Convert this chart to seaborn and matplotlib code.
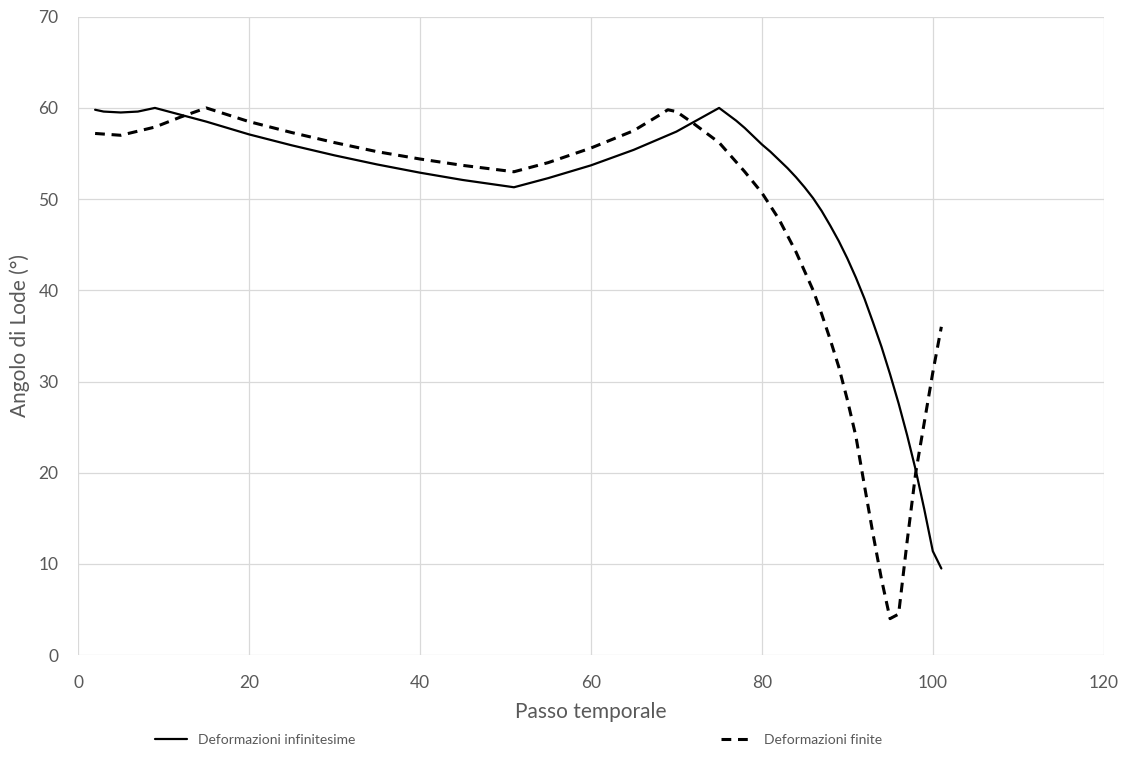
import matplotlib
matplotlib.use("Agg")
import matplotlib.pyplot as plt
import seaborn as sns
import pandas as pd

# deformazioni infinitesime (linea continua)
passo_inf = [2, 3, 5, 7, 9, 15, 20, 25, 30, 35, 40, 45, 51, 55, 60, 65, 70, 75,
             76, 77, 78, 79, 80, 81, 82, 83, 84, 85, 86, 87, 88, 89, 90, 91, 92,
             93, 94, 95, 96, 97, 98, 99, 100, 101]
angolo_inf = [59.8, 59.6, 59.5, 59.6, 60.0, 58.5, 57.1, 55.9, 54.8, 53.8, 52.9,
              52.1, 51.3, 52.3, 53.7, 55.4, 57.4, 60.0,
              59.3, 58.6, 57.8, 56.9, 56.0, 55.2, 54.3, 53.4, 52.4, 51.3, 50.1,
              48.7, 47.1, 45.4, 43.5, 41.4, 39.1, 36.5, 33.8, 30.8, 27.6, 24.1,
              20.3, 16.0, 11.4, 9.5]

# deformazioni finite (linea tratteggiata)
passo_fin = [2, 5, 9, 12, 15, 20, 25, 30, 35, 40, 45, 51, 55, 60, 65, 68, 69,
             70, 72, 75, 78, 80, 82, 84, 86, 87, 88, 89, 90, 91, 92, 93, 94, 95,
             96, 97, 98, 99, 100, 101]
angolo_fin = [57.2, 57.0, 57.9, 59.0, 60.0, 58.5, 57.3, 56.2, 55.2, 54.4, 53.7,
              53.0, 54.0, 55.6, 57.5, 59.2, 59.8, 59.6, 58.3, 56.2, 53.0, 50.7,
              47.8, 44.2, 40.0, 37.4, 34.6, 31.6, 28.0, 24.0, 18.6, 13.3, 8.3,
              4.0, 4.5, 12.5, 20.0, 25.5, 31.0, 36.0]

etichette = ["Deformazioni infinitesime", "Deformazioni finite"]

df_inf = pd.DataFrame({"passo": passo_inf, "angolo": angolo_inf})
df_fin = pd.DataFrame({"passo": passo_fin, "angolo": angolo_fin})

sns.set_style("white")
plt.rcParams["font.family"] = ["Lato", "DejaVu Sans"]
grigio = "#595959"

fig = plt.figure(figsize=(11.24, 7.6), dpi=100)
ax = fig.add_axes([0.0694, 0.138, 0.9126, 0.840])

sns.lineplot(data=df_inf, x="passo", y="angolo", ax=ax, color="black",
             linewidth=1.6, label=etichette[0])
sns.lineplot(data=df_fin, x="passo", y="angolo", ax=ax, color="black",
             linewidth=2.2, linestyle=(0, (3.2, 2.2)), label=etichette[1])

ax.set_xlim(0, 120)
ax.set_ylim(0, 70)
ax.set_xticks(range(0, 121, 20))
ax.set_yticks(range(0, 71, 10))
ax.grid(True, color="#d9d9d9", linewidth=0.9)
ax.set_axisbelow(True)
for s in ax.spines.values():
    s.set_visible(False)
ax.tick_params(length=0, labelsize=12.5, colors=grigio, pad=14)
ax.set_xlabel("Passo temporale", fontsize=15, color=grigio, labelpad=8)
ax.set_ylabel("Angolo di Lode (°)", fontsize=15, color=grigio, labelpad=6)

ax.get_legend().remove()
h, l = ax.get_legend_handles_labels()
leg = fig.legend(h, l, loc="center left", bbox_to_anchor=(0.1268, 0.026),
                 ncol=2, frameon=False, fontsize=10, handlelength=2.3,
                 handletextpad=0.8, columnspacing=26.3)
for t in leg.get_texts():
    t.set_color(grigio)

fig.savefig("out.png", dpi=100)
